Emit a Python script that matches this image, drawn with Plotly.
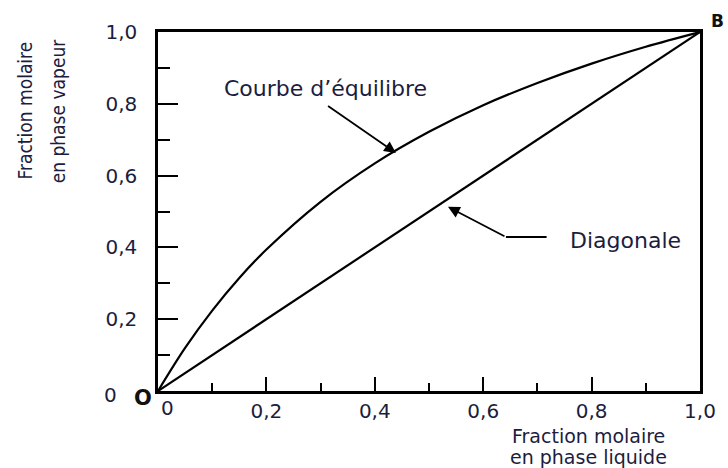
import plotly.graph_objects as go

# --- data ---
x_liquide = [0.0, 0.05, 0.10, 0.15, 0.20, 0.30, 0.40, 0.50, 0.60, 0.70, 0.80, 0.90, 1.0]
y_equilibre = [0.0, 0.120, 0.224, 0.315, 0.394, 0.527, 0.634, 0.722, 0.796, 0.858, 0.912, 0.959, 1.0]
x_diag = [0.0, 1.0]
y_diag = [0.0, 1.0]

major_vals = [0.2, 0.4, 0.6, 0.8, 1.0]
major_text = ["0,2", "0,4", "0,6", "0,8", "1,0"]
minor_vals = [0.1, 0.3, 0.5, 0.7, 0.9]

FONT = "DejaVu Sans"
TXT = "#1c1d3e"
NARROW = "Liberation Sans Narrow, DejaVu Sans Condensed, Arial Narrow, sans-serif"

fig = go.Figure()
fig.add_trace(go.Scatter(x=x_liquide, y=y_equilibre, mode="lines", line=dict(color="black", width=2.2, shape="spline"),
                         hoverinfo="skip", showlegend=False))
fig.add_trace(go.Scatter(x=x_diag, y=y_diag, mode="lines", line=dict(color="black", width=2.2),
                         hoverinfo="skip", showlegend=False))

axis_common = dict(range=[0, 1], showgrid=False, zeroline=False, showline=True, mirror=True,
                   linecolor="black", linewidth=2.5, ticks="inside", tickcolor="black", tickwidth=1.5,
                   tickvals=major_vals, ticktext=major_text,
                   tickfont=dict(family=FONT, size=20, color=TXT), fixedrange=True)

fig.update_xaxes(**axis_common, ticklen=14, ticklabelstandoff=0,
                 minor=dict(tickvals=minor_vals, ticks="inside", ticklen=8, tickcolor="black", tickwidth=1.5))
fig.update_yaxes(**axis_common, ticklen=20, ticklabelstandoff=14,
                 minor=dict(tickvals=minor_vals, ticks="inside", ticklen=12, tickcolor="black", tickwidth=1.5))

ann = []
def txt(x, y, s, size=20, family=FONT, angle=0, color=TXT, bold=False):
    ann.append(dict(x=x, y=y, xref="paper", yref="paper", text=("<b>%s</b>" % s) if bold else s,
                    showarrow=False, textangle=angle, font=dict(family=family, size=size, color=color),
                    xanchor="center", yanchor="middle"))

# pixel -> paper helper: plot spans x 158..702, y 32..391
px = lambda p: (p - 158) / 544.0
py = lambda p: (391 - p) / 359.0

txt(px(25), py(110), "Fraction molaire", size=19, family=NARROW, angle=-90)
txt(px(58), py(111), "en phase vapeur", size=19, family=NARROW, angle=-90)
txt(px(590), py(436), "Fraction molaire", size=19)
txt(px(590), py(457), "en phase liquide", size=19)
txt(px(110), py(395), "0", size=20)
txt(px(168), py(408), "0", size=20)
txt(px(143), py(398), "O", size=21, color="#111", bold=True)
txt(px(720), py(21), "B", size=17, color="#111", bold=True)
txt(px(326), py(88), "Courbe d’équilibre", size=22)
txt(px(627), py(240), "Diagonale", size=22)

# arrows
ann.append(dict(x=0.439, y=0.663, ax=0.311, ay=0.797, xref="x", yref="y", axref="x", ayref="y",
                showarrow=True, arrowhead=2, arrowsize=1.3, arrowwidth=1.8, arrowcolor="black", text=""))
ann.append(dict(x=0.535, y=0.513, ax=0.642, ay=0.429, xref="x", yref="y", axref="x", ayref="y",
                showarrow=True, arrowhead=2, arrowsize=1.3, arrowwidth=1.8, arrowcolor="black", text=""))

fig.add_shape(type="line", x0=0.642, y0=0.429, x1=0.717, y1=0.429, xref="x", yref="y",
              line=dict(color="black", width=1.8))

fig.update_layout(width=728, height=468, margin=dict(l=158, r=26, t=32, b=77),
                  paper_bgcolor="white", plot_bgcolor="white", annotations=ann, showlegend=False)

fig.write_html("out.html", config={"displayModeBar": False})
